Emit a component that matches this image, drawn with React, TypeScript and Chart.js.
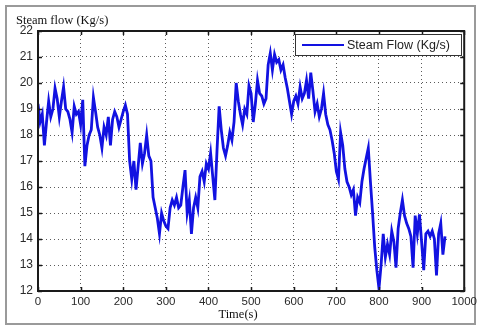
import React, { useEffect, useRef } from "react";
import { Chart, registerables } from "chart.js";

Chart.register(...registerables);

const seriesLabel = "Steam Flow (Kg/s)";
const yAxisLabel = "Steam flow (Kg/s)";
const xAxisLabel = "Time(s)";

const xTickValues = [0, 100, 200, 300, 400, 500, 600, 700, 800, 900, 1000];
const yTickValues = [12, 13, 14, 15, 16, 17, 18, 19, 20, 21, 22];

const timeSeconds = [
  0, 5, 10, 15, 20, 25, 30, 35, 40, 45,
  50, 55, 60, 65, 70, 75, 80, 85, 90, 95,
  100, 105, 110, 115, 120, 125, 130, 135, 140, 145,
  150, 155, 160, 165, 170, 175, 180, 185, 190, 195,
  200, 205, 210, 215, 220, 225, 230, 235, 240, 245,
  250, 255, 260, 265, 270, 275, 280, 285, 290, 295,
  300, 305, 310, 315, 320, 325, 330, 335, 340, 345,
  350, 355, 360, 365, 370, 375, 380, 385, 390, 395,
  400, 405, 410, 415, 420, 425, 430, 435, 440, 445,
  450, 455, 460, 465, 470, 475, 480, 485, 490, 495,
  500, 505, 510, 515, 520, 525, 530, 535, 540, 545,
  550, 555, 560, 565, 570, 575, 580, 585, 590, 595,
  600, 605, 610, 615, 620, 625, 630, 635, 640, 645,
  650, 655, 660, 665, 670, 675, 680, 685, 690, 695,
  700, 705, 710, 715, 720, 725, 730, 735, 740, 745,
  750, 755, 760, 765, 770, 775, 780, 785, 790, 795,
  800, 805, 810, 815, 820, 825, 830, 835, 840, 845,
  850, 855, 860, 865, 870, 875, 880, 885, 890, 895,
  900, 905, 910, 915, 920, 925, 930, 935, 940, 945,
  950, 955,
];

const steamFlow = [
  19.2, 18.5, 18.8, 17.6, 18.5, 19.3, 18.7, 19.0, 19.8, 19.4,
  18.7, 19.3, 19.85, 19.0, 18.9, 18.6, 18.1, 19.1, 18.8, 18.9,
  18.4, 19.35, 16.8, 17.6, 18.0, 18.2, 19.45, 18.9, 18.3, 18.0,
  17.5, 18.3, 18.0, 18.7, 17.6, 18.6, 18.9, 18.7, 18.3, 18.6,
  18.9, 19.15, 18.8, 17.0, 16.3, 17.0, 15.9, 16.8, 17.7, 16.9,
  17.3, 18.0, 17.2, 17.0, 15.6, 15.2, 14.8, 14.2, 15.0, 14.7,
  14.5, 14.4, 15.2, 15.5, 15.3, 15.6, 15.2, 15.3, 16.0, 16.65,
  15.0, 15.5, 14.2, 15.2, 15.6, 15.2, 16.4, 16.6, 16.2, 16.9,
  16.7, 17.3, 16.4, 15.5, 17.4, 19.1, 18.2, 17.5, 17.2, 17.6,
  18.1, 17.8, 18.5, 20.0, 19.3, 18.8, 18.4, 19.0, 18.8, 19.9,
  19.6, 18.5, 19.2, 20.1, 19.6, 19.5, 19.2, 19.4, 20.7, 21.15,
  20.5, 21.1, 20.8, 20.9, 20.5, 20.7, 20.2, 19.8, 19.3, 18.8,
  19.3, 19.5, 19.2, 19.85, 19.4, 19.6, 20.1, 19.4, 20.4, 19.7,
  18.9, 19.2, 18.7, 19.0, 19.6, 18.8, 18.4, 18.2, 17.8, 17.3,
  16.6, 16.3, 18.1, 17.6, 16.7, 16.2, 16.0, 15.7, 15.9, 14.9,
  15.6, 15.4, 16.2, 16.7, 17.1, 17.5, 16.2, 15.0, 13.7, 12.8,
  12.1, 13.0, 14.2, 13.3, 13.8, 13.4, 14.3, 13.9, 12.9, 14.4,
  15.0, 15.5, 14.9, 14.6, 14.4, 14.1, 12.9, 14.9, 14.2, 14.95,
  13.9, 12.8, 14.2, 14.3, 14.1, 14.3, 14.0, 12.6, 14.2, 14.6,
  13.4, 14.1,
];

const LINE_COLOR = "rgb(18,18,225)";

const decorPlugin = {
  id: "decor",
  beforeDraw(chart: any) {
    const { ctx, width, height } = chart;
    ctx.save();
    ctx.fillStyle = "#ffffff";
    ctx.fillRect(0, 0, width, height);
    ctx.strokeStyle = "#9a9a9a";
    ctx.lineWidth = 2;
    ctx.strokeRect(6, 6, 469, 318);
    ctx.restore();
  },
  afterDatasetsDraw(chart: any) {
    const { ctx, chartArea } = chart;
    const { left, right, top, bottom } = chartArea;
    const xs = chart.scales.x;
    const ys = chart.scales.y;
    ctx.save();
    ctx.strokeStyle = "#1a1a1a";
    ctx.lineWidth = 2;
    ctx.strokeRect(left, top, right - left, bottom - top);
    ctx.lineWidth = 1.5;
    ctx.beginPath();
    xTickValues.forEach((v) => {
      const px = Math.round(xs.getPixelForValue(v)) + 0.5;
      ctx.moveTo(px, bottom);
      ctx.lineTo(px, bottom - 4);
      ctx.moveTo(px, top);
      ctx.lineTo(px, top + 4);
    });
    yTickValues.forEach((v) => {
      const py = Math.round(ys.getPixelForValue(v)) + 0.5;
      ctx.moveTo(left, py);
      ctx.lineTo(left + 4, py);
      ctx.moveTo(right, py);
      ctx.lineTo(right - 4, py);
    });
    ctx.stroke();

    const lx = 295, ly = 34, lw = 166, lh = 21;
    ctx.fillStyle = "#ffffff";
    ctx.fillRect(lx, ly, lw, lh);
    ctx.strokeStyle = "#333333";
    ctx.lineWidth = 1;
    ctx.strokeRect(lx + 0.5, ly + 0.5, lw, lh);
    ctx.strokeStyle = LINE_COLOR;
    ctx.lineWidth = 2;
    ctx.beginPath();
    ctx.moveTo(302, ly + lh / 2 + 0.5);
    ctx.lineTo(344, ly + lh / 2 + 0.5);
    ctx.stroke();
    ctx.fillStyle = "#222222";
    ctx.font = "12.5px 'Liberation Sans', Arial, sans-serif";
    ctx.textBaseline = "middle";
    ctx.textAlign = "left";
    ctx.fillText(chart.data.datasets[0].label, 347, ly + lh / 2 + 1);

    ctx.fillStyle = "#111111";
    ctx.font = "12.5px 'Liberation Serif', 'Times New Roman', serif";
    ctx.textAlign = "left";
    ctx.fillText(yAxisLabel, 16, 21);
    ctx.textAlign = "center";
    ctx.fillText(xAxisLabel, 238, 315);
    ctx.restore();
  },
};

export default function App() {
  const canvasRef = useRef<HTMLCanvasElement | null>(null);

  useEffect(() => {
    const canvas = canvasRef.current;
    if (!canvas) return;
    const chart = new Chart(canvas, {
      type: "line",
      data: {
        datasets: [
          {
            label: seriesLabel,
            data: timeSeconds.map((t, i) => ({ x: t, y: steamFlow[i] })),
            borderColor: LINE_COLOR,
            backgroundColor: LINE_COLOR,
            borderWidth: 2.8,
            pointRadius: 0,
            tension: 0,
            fill: false,
          },
        ],
      },
      options: {
        responsive: false,
        animation: false,
        devicePixelRatio: 1,
        layout: { padding: { left: 0, top: 31, right: 16, bottom: 0 } },
        plugins: {
          legend: { display: false },
          tooltip: { enabled: false },
          title: { display: false },
        },
        scales: {
          x: {
            type: "linear",
            min: 0,
            max: 1000,
            afterBuildTicks: (scale: any) => {
              scale.ticks = xTickValues.map((v) => ({ value: v }));
            },
            afterFit: (scale: any) => {
              scale.height = 35;
            },
            grid: {
              color: "rgba(50,50,50,0.8)",
              lineWidth: 1,
              drawTicks: false,
            },
            border: { display: false, dash: [1, 3] },
            ticks: {
              padding: 4,
              color: "#2a2a2a",
              font: { family: "'Liberation Sans', Arial, sans-serif", size: 11.5 },
              maxRotation: 0,
              autoSkip: false,
              callback: (value: any) => String(value),
            },
          },
          y: {
            type: "linear",
            min: 12,
            max: 22,
            afterBuildTicks: (scale: any) => {
              scale.ticks = yTickValues.map((v) => ({ value: v }));
            },
            afterFit: (scale: any) => {
              scale.width = 38;
            },
            grid: {
              color: "rgba(50,50,50,0.8)",
              lineWidth: 1,
              drawTicks: false,
            },
            border: { display: false, dash: [1, 3] },
            ticks: {
              padding: 5,
              color: "#2a2a2a",
              font: { family: "'Liberation Sans', Arial, sans-serif", size: 12 },
              autoSkip: false,
              callback: (value: any) => String(value),
            },
          },
        },
      },
      plugins: [decorPlugin],
    });
    return () => chart.destroy();
  }, []);

  return (
    <div style={{ position: "fixed", left: 0, top: 0, width: 481, height: 326, background: "#fff" }}>
      <canvas ref={canvasRef} width={481} height={326} style={{ display: "block", width: 481, height: 326 }} />
    </div>
  );
}
